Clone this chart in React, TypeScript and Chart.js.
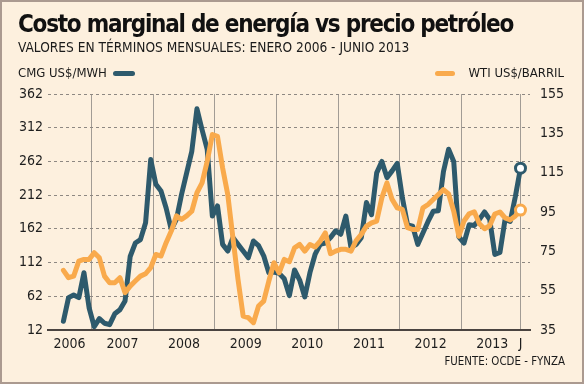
import React, { useEffect, useRef } from "react";
import { Chart, registerables } from "chart.js";

Chart.register(...registerables);

// Monthly values, Jan 2006 (index 0) .. Jun 2013 (index 89)
const cmgValues = [
  25, 60, 64, 60, 97, 45, 17, 29, 22, 20, 36, 42,
  55, 121, 141, 146, 171, 265, 228, 218, 193, 161, 176, 213,
  245, 277, 340, 309, 280, 181, 196, 139, 129, 149, 139, 129,
  119, 144, 137, 122, 97, 98, 96, 88, 63, 101, 86, 61,
  97, 124, 139, 141, 149, 159, 154, 181, 134, 139, 149, 201,
  183, 245, 262, 238, 248, 259, 208, 168, 166, 139, 156, 173,
  188, 189, 247, 280, 262, 150, 141, 168, 167, 176, 187, 176,
  124, 127, 176, 173, 210, 252,
];

const wtiValues = [
  65.3, 61.6, 62.4, 70, 70.9, 70.9, 74.3, 71.7, 62.4, 59, 59, 61.6,
  54, 57.3, 59.9, 62.4, 63.6, 66.7, 73.4, 72.6, 79.4, 85.3, 93, 91.2,
  93, 95.4, 104.8, 109.8, 120.8, 134.4, 133.5, 117.4, 103.9, 82, 60.7, 42.1,
  41.3, 38.7, 47.2, 49.7, 59.9, 69.2, 64.1, 70.9, 69.7, 76.8, 78.5, 75.1,
  78.5, 77.2, 80.2, 84.4, 73.8, 75.1, 76, 76, 75.1, 80.5, 83.6, 87.8,
  89.5, 90.4, 102.2, 109.8, 101.4, 97.1, 96.3, 87, 86.1, 86.1, 97.1, 98.8,
  101.4, 103.9, 106.4, 104.2, 95.4, 82.7, 90.4, 94.1, 95.1, 89, 86.5, 88,
  94, 95, 92, 91, 93, 96,
];

const xTickValues = [1.2, 11.5, 23.5, 35.5, 47.5, 59.5, 71.5, 83.5, 89];
const xTickLabels = ["2006", "2007", "2008", "2009", "2010", "2011", "2012", "2013", "J"];
const yearDividers = [5.5, 17.5, 29.5, 41.5, 53.5, 65.5, 77.5, 89];
const leftTicks = [12, 62, 112, 162, 212, 262, 312, 362];
const rightTicks = [35, 55, 75, 95, 115, 135, 155];

const TEAL = "#2e5a6c";
const ORANGE = "#f9aa4c";
const BG = "#fdf0de";
const FONT = "'DejaVu Sans Condensed', 'DejaVu Sans', sans-serif";

export default function App() {
  const canvasRef = useRef<HTMLCanvasElement | null>(null);

  useEffect(() => {
    const canvas = canvasRef.current;
    if (!canvas) return;
    const lastC = cmgValues.length - 1;
    const lastW = wtiValues.length - 1;
    const chart = new Chart(canvas, {
      type: "line",
      data: {
        datasets: [
          {
            label: "CMG US$/MWH",
            data: cmgValues.map((v, i) => ({ x: i, y: v })),
            xAxisID: "x",
            yAxisID: "y",
            borderColor: TEAL,
            borderWidth: 5,
            tension: 0,
            borderJoinStyle: "round",
            borderCapStyle: "round",
            pointRadius: (ctx: any) => (ctx.dataIndex === lastC ? 5 : 0),
            pointBackgroundColor: "#ffffff",
            pointBorderColor: TEAL,
            pointBorderWidth: 3,
            order: 2,
          },
          {
            label: "WTI US$/BARRIL",
            data: wtiValues.map((v, i) => ({ x: i, y: v })),
            xAxisID: "x",
            yAxisID: "y1",
            borderColor: ORANGE,
            borderWidth: 5,
            tension: 0,
            borderJoinStyle: "round",
            borderCapStyle: "round",
            pointRadius: (ctx: any) => (ctx.dataIndex === lastW ? 5 : 0),
            pointBackgroundColor: "#ffffff",
            pointBorderColor: ORANGE,
            pointBorderWidth: 3,
            order: 1,
          },
        ],
      },
      options: {
        responsive: false,
        animation: false,
        layout: { padding: { top: 94, left: 0, right: 0, bottom: 0 } },
        plugins: { legend: { display: false }, tooltip: { enabled: false } },
        scales: {
          x: {
            type: "linear",
            position: "bottom",
            min: -3,
            max: 90.85,
            grid: { display: false, drawTicks: false },
            border: { display: true, color: "#4a4440", width: 2 },
            ticks: {
              autoSkip: false,
              maxRotation: 0,
              padding: 6,
              color: "#1e1e1e",
              font: { family: FONT, size: 14 },
              callback: (_v: any, i: number) => xTickLabels[i],
            },
            afterBuildTicks: (s: any) => {
              s.ticks = xTickValues.map((v) => ({ value: v }));
            },
            afterFit: (s: any) => {
              s.height = 54;
            },
          },
          xg: {
            type: "linear",
            position: "bottom",
            min: -3,
            max: 90.85,
            ticks: { display: false },
            grid: { display: true, color: "#a29c95", lineWidth: 1, drawTicks: false },
            border: { display: false },
            afterBuildTicks: (s: any) => {
              s.ticks = yearDividers.map((v) => ({ value: v }));
            },
            afterFit: (s: any) => {
              s.height = 0;
            },
          },
          y: {
            type: "linear",
            position: "left",
            min: 12,
            max: 362,
            grid: { display: true, color: "#8e8882", lineWidth: 1, drawTicks: false },
            border: { display: false, dash: [3, 3] },
            ticks: {
              padding: 5,
              color: "#1e1e1e",
              font: { family: FONT, size: 14 },
            },
            afterBuildTicks: (s: any) => {
              s.ticks = leftTicks.map((v) => ({ value: v }));
            },
            afterFit: (s: any) => {
              s.width = 48;
            },
          },
          y1: {
            type: "linear",
            position: "right",
            min: 35,
            max: 155,
            grid: { display: false, drawTicks: false },
            border: { display: false },
            ticks: {
              padding: 10,
              color: "#1e1e1e",
              font: { family: FONT, size: 14 },
            },
            afterBuildTicks: (s: any) => {
              s.ticks = rightTicks.map((v) => ({ value: v }));
            },
            afterFit: (s: any) => {
              s.width = 54;
            },
          },
        },
      },
    });
    return () => chart.destroy();
  }, []);

  const text: React.CSSProperties = {
    position: "absolute",
    fontFamily: FONT,
    lineHeight: 1,
    whiteSpace: "nowrap",
    color: "#1a1a1a",
    margin: 0,
  };

  return (
    <div
      style={{
        position: "absolute",
        left: 0,
        top: 0,
        width: 584,
        height: 384,
        background: BG,
        overflow: "hidden",
      }}
    >
      <canvas
        ref={canvasRef}
        width={584}
        height={384}
        style={{ position: "absolute", left: 0, top: 0, width: 584, height: 384 }}
      />
      <div
        style={{
          ...text,
          left: 18,
          top: 12,
          fontSize: 24,
          letterSpacing: -1.25,
          fontWeight: "bold",
          color: "#111",
        }}
      >
        Costo marginal de energía vs precio petróleo
      </div>
      <div style={{ ...text, left: 18, top: 41, fontSize: 13.6 }}>
        VALORES EN TÉRMINOS MENSUALES: ENERO 2006 - JUNIO 2013
      </div>
      <div style={{ ...text, left: 18, top: 66, fontSize: 13 }}>CMG US$/MWH</div>
      <div
        style={{
          position: "absolute",
          left: 113,
          top: 70.5,
          width: 22,
          height: 5,
          borderRadius: 3,
          background: TEAL,
        }}
      />
      <div
        style={{
          position: "absolute",
          left: 435,
          top: 70.5,
          width: 20,
          height: 5,
          borderRadius: 3,
          background: ORANGE,
        }}
      />
      <div style={{ ...text, right: 20, top: 66, fontSize: 13 }}>WTI US$/BARRIL</div>
      <div style={{ ...text, right: 19, top: 356, fontSize: 11.4 }}>FUENTE: OCDE - FYNZA</div>
      <div
        style={{
          position: "absolute",
          left: 0,
          top: 0,
          width: 584,
          height: 384,
          boxSizing: "border-box",
          border: "2px solid #ab9a90",
          pointerEvents: "none",
        }}
      />
    </div>
  );
}
